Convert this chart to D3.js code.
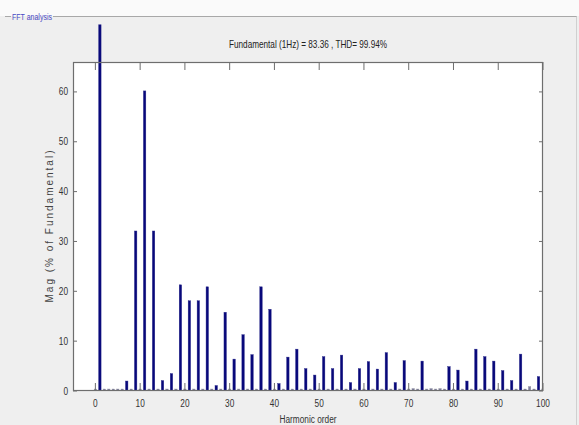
<!DOCTYPE html>
<html>
<head>
<meta charset="utf-8">
<script src="https://cdn.jsdelivr.net/npm/d3@7"></script>
<style>
  html, body { margin: 0; padding: 0; background: #efefef; }
  svg { display: block; }
</style>
</head>
<body>
<script>
// harmonic magnitudes, % of fundamental, index = harmonic order 0..100
const magnitudes = [
  0.4, 100, 0.4, 0.4, 0.4, 0.4, 0.4, 2.0, 0.4, 32.1,
  0.4, 60.2, 0.4, 32.1, 0.4, 2.1, 0.4, 3.5, 0.4, 21.3,
  0.4, 18.1, 0.4, 18.1, 0.4, 20.9, 0.4, 1.1, 0.4, 15.8,
  0.4, 6.4, 0.4, 11.3, 0.4, 7.3, 0.4, 20.9, 0.4, 16.4,
  0.4, 1.5, 0.4, 6.8, 0.4, 8.4, 0.4, 4.5, 0.4, 3.2,
  0.4, 6.9, 0.4, 4.5, 0.4, 7.2, 0.4, 1.7, 0.4, 4.5,
  0.4, 5.9, 0.4, 4.4, 0.4, 7.7, 0.4, 1.7, 0.4, 6.1,
  0.4, 0.5, 0.4, 6.0, 0.4, 0.5, 0.4, 0.5, 0.4, 4.9,
  0.4, 4.2, 0.4, 2.0, 0.4, 8.4, 0.4, 6.9, 0.4, 6.0,
  0.4, 4.1, 0.4, 2.1, 0.4, 7.4, 0.4, 0.9, 0.4, 2.9,
  0.4
];
const orders = magnitudes.map((_, i) => i);
const xTicks = [0, 10, 20, 30, 40, 50, 60, 70, 80, 90, 100];
const yTicks = [0, 10, 20, 30, 40, 50, 60];
const titleText = "Fundamental (1Hz) = 83.36 , THD= 99.94%";

const width = 579, height = 425;
const margin = {top: 62, right: 36, bottom: 34, left: 73};
const font = "'Liberation Sans Narrow', 'Arial Narrow', 'Liberation Sans', sans-serif";

const svg = d3.select("body").append("svg")
  .attr("width", width).attr("height", height);

// panel background + frame
svg.append("rect").attr("width", width).attr("height", 16).attr("fill", "#fafafa");
svg.append("line").attr("x1", 5).attr("x2", 11).attr("y1", 16.5).attr("y2", 16.5)
  .attr("stroke", "#a8a8a8");
svg.append("line").attr("x1", 53).attr("x2", 577).attr("y1", 16.5).attr("y2", 16.5)
  .attr("stroke", "#a8a8a8");
svg.append("line").attr("x1", 576.5).attr("x2", 576.5).attr("y1", 16.5).attr("y2", height)
  .attr("stroke", "#d0d0d0");
svg.append("text").attr("x", 12).attr("y", 19.5)
  .attr("font-family", font).attr("font-size", 9).attr("fill", "#4a4ac4")
  .attr("textLength", 40).attr("lengthAdjust", "spacingAndGlyphs")
  .text("FFT analysis");

const x = d3.scaleLinear().domain([-5, 100]).range([margin.left, width - margin.right]);
const y = d3.scaleLinear().domain([0, 66]).range([height - margin.bottom, margin.top]);

svg.append("rect")
  .attr("x", x(-5)).attr("y", y(66))
  .attr("width", x(100) - x(-5)).attr("height", y(0) - y(66))
  .attr("fill", "#fff");

// bars (fundamental runs above the axes box)
const clipTop = 73.5;
svg.append("clipPath").attr("id", "clip")
  .append("rect")
  .attr("x", x(-5)).attr("y", y(clipTop))
  .attr("width", x(100) - x(-5)).attr("height", y(0) - y(clipTop));

const barW = (x(1) - x(0)) * 0.55;
svg.append("g").attr("clip-path", "url(#clip)")
  .selectAll("rect")
  .data(orders)
  .join("rect")
  .attr("x", d => x(d) - barW / 2)
  .attr("y", d => y(magnitudes[d]))
  .attr("width", barW)
  .attr("height", d => y(0) - y(magnitudes[d]))
  .attr("fill", d => magnitudes[d] < 1 ? "#7a7a9a" : "#08087a")
  .attr("stroke", d => magnitudes[d] < 1 ? "#9a9aa8" : "#2c2c8c")
  .attr("stroke-width", 0.4);

// box + inward ticks
const axisColor = "#6e6e6e";
const g = svg.append("g").attr("stroke", axisColor).attr("fill", "none");
g.append("rect")
  .attr("x", x(-5) + 0.5).attr("y", y(66) + 0.5)
  .attr("width", x(100) - x(-5) - 1).attr("height", y(0) - y(66) - 1)
  .attr("stroke-width", 1.2);

xTicks.forEach(t => {
  g.append("line").attr("x1", x(t)).attr("x2", x(t))
    .attr("y1", y(0)).attr("y2", y(0) - 8);
  g.append("line").attr("x1", x(t)).attr("x2", x(t))
    .attr("y1", y(66)).attr("y2", y(66) + 8);
});
yTicks.forEach(t => {
  g.append("line").attr("x1", x(-5)).attr("x2", x(-5) + 4)
    .attr("y1", y(t)).attr("y2", y(t));
  g.append("line").attr("x1", x(100)).attr("x2", x(100) - 4)
    .attr("y1", y(t)).attr("y2", y(t));
});

// tick labels (narrow, like the original)
svg.append("g").selectAll("text")
  .data(xTicks).join("text")
  .attr("x", d => x(d)).attr("y", y(0) + 16)
  .attr("text-anchor", "middle")
  .attr("font-family", font).attr("font-size", 10).attr("fill", "#333")
  .attr("textLength", d => String(d).length * 4.6)
  .attr("lengthAdjust", "spacingAndGlyphs")
  .text(d => d);

svg.append("g").selectAll("text")
  .data(yTicks).join("text")
  .attr("x", x(-5) - 5).attr("y", d => y(d) + 3.5)
  .attr("text-anchor", "end")
  .attr("font-family", font).attr("font-size", 10).attr("fill", "#333")
  .attr("textLength", d => String(d).length * 4.6)
  .attr("lengthAdjust", "spacingAndGlyphs")
  .text(d => d);

// labels
svg.append("text")
  .attr("x", (x(-5) + x(100)) / 2).attr("y", 48)
  .attr("text-anchor", "middle")
  .attr("font-family", font).attr("font-size", 11).attr("fill", "#222")
  .attr("textLength", 158).attr("lengthAdjust", "spacingAndGlyphs")
  .text(titleText);

svg.append("text")
  .attr("x", (x(-5) + x(100)) / 2).attr("y", 423)
  .attr("text-anchor", "middle")
  .attr("font-family", font).attr("font-size", 10).attr("fill", "#333")
  .attr("textLength", 57).attr("lengthAdjust", "spacingAndGlyphs")
  .text("Harmonic order");

svg.append("text")
  .attr("transform", `translate(53,${(y(0) + y(66)) / 2}) rotate(-90)`)
  .attr("text-anchor", "middle")
  .attr("font-family", font).attr("font-size", 10).attr("fill", "#444")
  .attr("textLength", 152).attr("lengthAdjust", "spacing")
  .text("Mag (% of Fundamental)");
</script>
</body>
</html>
